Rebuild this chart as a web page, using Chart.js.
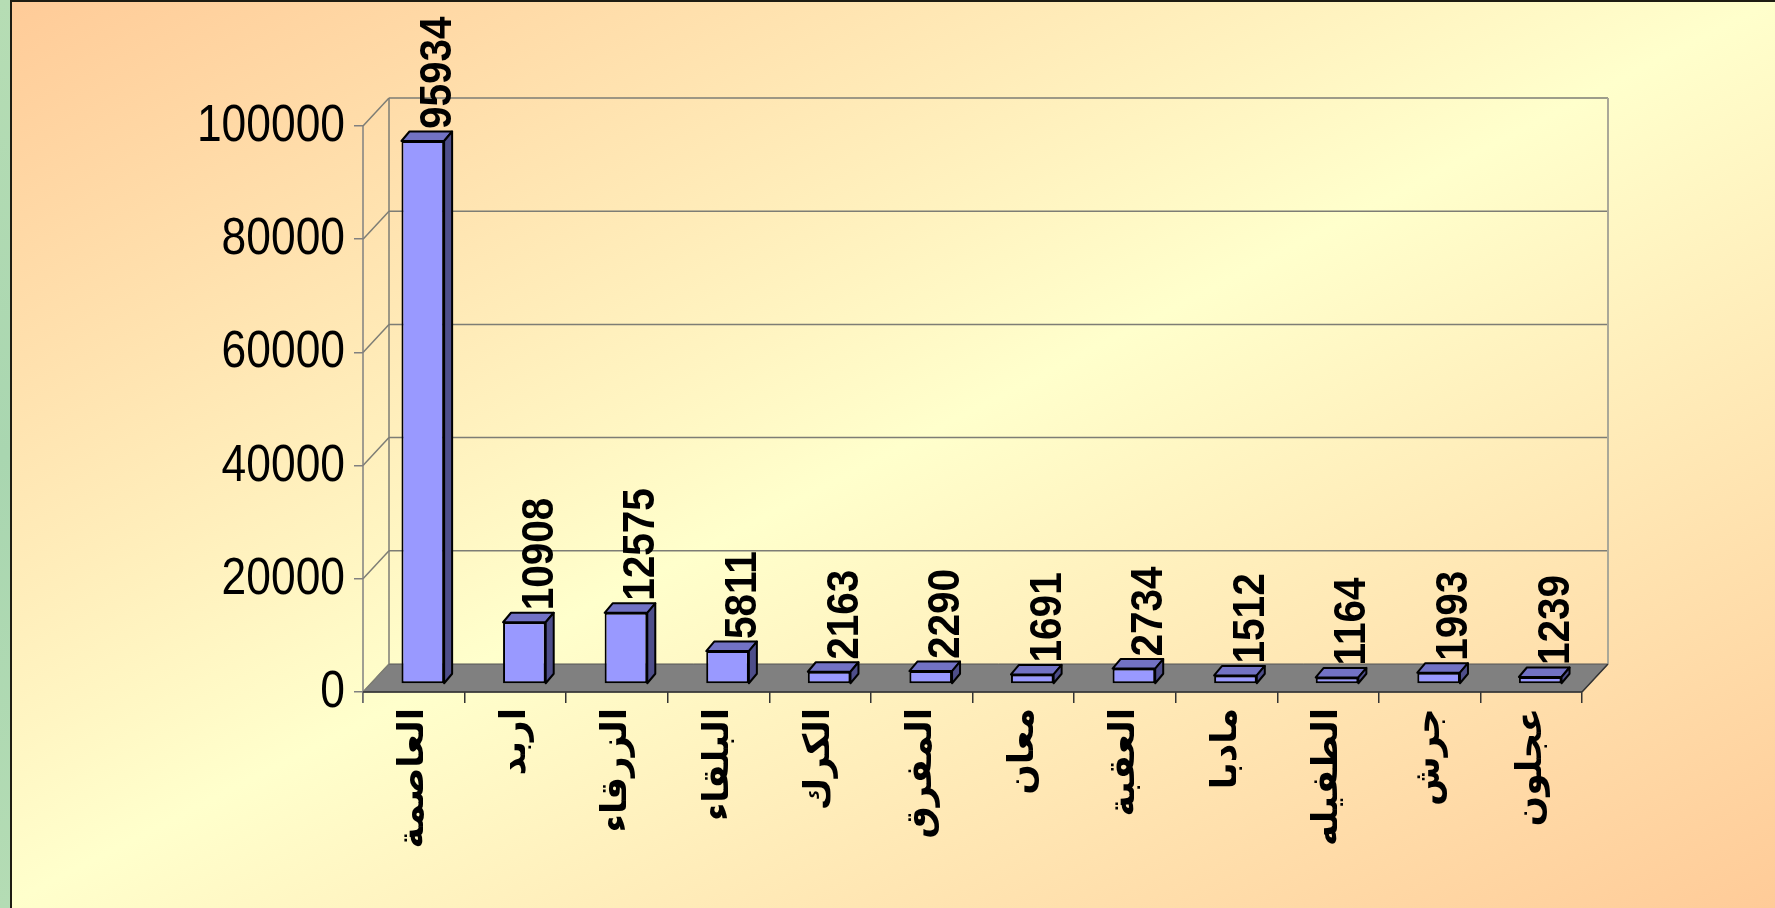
<!DOCTYPE html>
<html>
<head>
<meta charset="utf-8">
<script src="https://cdn.jsdelivr.net/npm/chart.js@4.4.1/dist/chart.umd.min.js"></script>
<style>
html,body{margin:0;padding:0;overflow:hidden;background:#fff}
canvas{display:block}
</style>
</head>
<body>
<canvas id="c" width="1775" height="908"></canvas>
<script>
// ---- data ----
const categories = ['العاصمة','اربد','الزرقاء','البلقاء','الكرك','المفرق','معان','العقبة','مادبا','الطفيله','جرش','عجلون'];
const values = [95934, 10908, 12575, 5811, 2163, 2290, 1691, 2734, 1512, 1164, 1993, 1239];
const yTickValues = [0, 20000, 40000, 60000, 80000, 100000];
const yMax = 100000;

// ---- 3D geometry (styling) ----
const WALL_DX = 26, WALL_DY = 28;     // depth of the floor / back wall
const BAR_OX = 9, BAR_OY = 8;         // bar front face offset into depth
const BAR_DX = 8, BAR_DY = 9.5;       // bar depth

function seg(ctx, x1, y1, x2, y2) {
  ctx.beginPath(); ctx.moveTo(x1, y1); ctx.lineTo(x2, y2); ctx.stroke();
}
function poly(ctx, pts, fill, stroke, lw) {
  ctx.beginPath();
  ctx.moveTo(pts[0][0], pts[0][1]);
  for (let i = 1; i < pts.length; i++) ctx.lineTo(pts[i][0], pts[i][1]);
  ctx.closePath();
  ctx.fillStyle = fill; ctx.fill();
  if (stroke) { ctx.strokeStyle = stroke; ctx.lineWidth = lw; ctx.lineJoin = 'round'; ctx.stroke(); }
}

const scene3d = {
  id: 'scene3d',
  beforeDraw(chart) {
    const { ctx, width, height } = chart;
    ctx.save();
    const g = ctx.createLinearGradient(0, 0, 736, 1439);
    g.addColorStop(0, '#FFCB98');
    g.addColorStop(0.5, '#FFFFCC');
    g.addColorStop(1, '#FFCB98');
    ctx.fillStyle = g;
    ctx.fillRect(0, 0, width, height);
    const gg = ctx.createLinearGradient(0, 0, 10, height);
    gg.addColorStop(0, '#B6DDB4');
    gg.addColorStop(0.5, '#A9D6B0');
    gg.addColorStop(1, '#B4DCB4');
    ctx.fillStyle = gg;
    ctx.fillRect(0, 0, 10, height);
    ctx.fillStyle = '#1e1c12';
    ctx.fillRect(10, 0, 2, height);
    ctx.fillRect(10, 0, width - 10, 2);
    ctx.restore();
  },
  beforeDatasetsDraw(chart) {
    const { ctx, chartArea: a, scales: { y } } = chart;
    ctx.save();
    const yTop = y.getPixelForValue(yMax);
    // floor
    poly(ctx, [[a.left, a.bottom], [a.right, a.bottom], [a.right + WALL_DX, a.bottom - WALL_DY], [a.left + WALL_DX, a.bottom - WALL_DY]], '#808080', '#555555', 1);
    // back wall & side wall grid
    ctx.strokeStyle = '#7d7d75';
    ctx.lineWidth = 1.5;
    yTickValues.forEach(v => {
      const py = y.getPixelForValue(v);
      if (v > 0) seg(ctx, a.left + WALL_DX, py - WALL_DY, a.right + WALL_DX, py - WALL_DY);
      seg(ctx, a.left, py, a.left + WALL_DX, py - WALL_DY);
    });
    seg(ctx, a.left + WALL_DX, yTop - WALL_DY, a.left + WALL_DX, a.bottom - WALL_DY);
    ctx.strokeStyle = '#aaa898';
    ctx.lineWidth = 2;
    seg(ctx, a.right + WALL_DX, yTop - WALL_DY, a.right + WALL_DX, a.bottom - WALL_DY);
    // front axes
    ctx.strokeStyle = '#808080';
    ctx.lineWidth = 1.5;
    seg(ctx, a.left, yTop, a.left, a.bottom + 11);
    ctx.strokeStyle = '#333333';
    ctx.lineWidth = 1.5;
    seg(ctx, a.left, a.bottom, a.right, a.bottom);
    seg(ctx, a.right, a.bottom, a.right + WALL_DX, a.bottom - WALL_DY);
    // y tick labels (tall, narrow Arial look)
    ctx.fillStyle = '#000';
    ctx.font = '51px "Liberation Sans", Arial, sans-serif';
    ctx.textAlign = 'right';
    ctx.textBaseline = 'middle';
    y.ticks.forEach(t => {
      const py = y.getPixelForValue(t.value);
      ctx.save();
      ctx.translate(a.left - 18, py + 1);
      ctx.scale(0.87, 1);
      ctx.fillText(String(t.value), 0, 0);
      ctx.restore();
    });
    ctx.restore();
    ctx.save();
    ctx.translate(BAR_OX, -BAR_OY);
  },
  afterDatasetsDraw(chart) {
    const { ctx } = chart;
    ctx.restore();
    ctx.save();
    const meta = chart.getDatasetMeta(0);
    meta.data.forEach((el, i) => {
      const p = el.getProps(['x', 'y', 'base', 'width'], true);
      const xl = p.x - p.width / 2 + BAR_OX, xr = p.x + p.width / 2 + BAR_OX;
      const yt = p.y - BAR_OY, yb = p.base - BAR_OY;
      poly(ctx, [[xl, yt], [xr, yt], [xr + BAR_DX, yt - BAR_DY], [xl + BAR_DX, yt - BAR_DY]], '#7272C4', '#000', 2);
      poly(ctx, [[xr, yt], [xr + BAR_DX, yt - BAR_DY], [xr + BAR_DX, yb - BAR_DY], [xr, yb]], '#4E4E8A', '#000', 2);
    });
    meta.data.forEach((el, i) => {
      const p = el.getProps(['x', 'y'], true);
      ctx.save();
      ctx.translate(p.x + 25, p.y - BAR_OY - 12);
      ctx.rotate(-Math.PI / 2);
      ctx.scale(0.9, 1);
      ctx.font = 'bold 45px "Liberation Sans", Arial, sans-serif';
      ctx.fillStyle = '#000';
      ctx.textAlign = 'left';
      ctx.textBaseline = 'middle';
      ctx.fillText(String(values[i]), 0, 0);
      ctx.restore();
    });
    ctx.restore();
  }
};

new Chart(document.getElementById('c'), {
  type: 'bar',
  data: {
    labels: categories,
    datasets: [{
      data: values,
      backgroundColor: '#9999FF',
      borderColor: '#000000',
      borderWidth: 2,
      borderSkipped: false,
      barPercentage: 0.42,
      categoryPercentage: 1
    }]
  },
  options: {
    responsive: false,
    animation: false,
    devicePixelRatio: 1,
    layout: { padding: { left: 0, top: 126, right: 193, bottom: 0 } },
    plugins: { legend: { display: false }, tooltip: { enabled: false }, title: { display: false } },
    scales: {
      x: {
        type: 'category',
        offset: true,
        grid: { display: true, offset: true, drawOnChartArea: false, drawTicks: true, tickLength: 11, color: '#333333', lineWidth: 1.5 },
        border: { display: false },
        ticks: {
          autoSkip: false, minRotation: 90, maxRotation: 90, padding: 5,
          color: '#000',
          font: { family: '"DejaVu Sans", sans-serif', weight: 'bold', size: 36 }
        },
        afterFit(scale) { scale.height = 216; }
      },
      y: {
        min: 0, max: yMax,
        grid: { display: true, drawOnChartArea: false, drawTicks: true, tickLength: 9, color: '#808080', lineWidth: 1.5 },
        border: { display: false },
        afterBuildTicks(scale) { scale.ticks = yTickValues.map(v => ({ value: v })); },
        ticks: { display: false },
        afterFit(scale) { scale.width = 363; }
      }
    }
  },
  plugins: [scene3d]
});
</script>
</body>
</html>
